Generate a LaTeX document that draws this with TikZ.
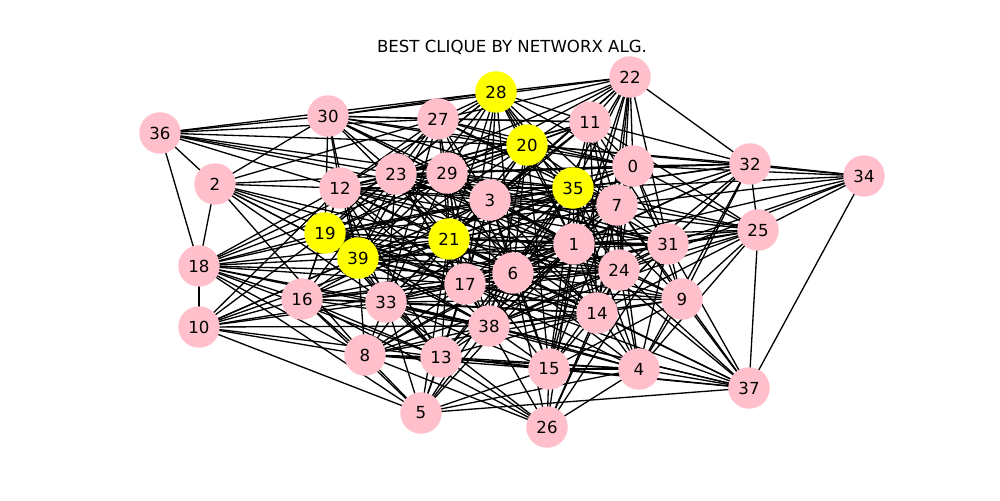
\documentclass[tikz,border=0pt]{standalone}
\usepackage{fontspec}
\setmainfont{DejaVu Sans}
\usetikzlibrary{backgrounds}
\definecolor{nodepink}{RGB}{255,192,203}
\definecolor{cliqueyellow}{RGB}{255,255,0}
\tikzset{
  vtx/.style={circle, fill=nodepink, minimum size=0.83cm, inner sep=0pt, font=\fontsize{9.45}{11}\selectfont},
  clq/.style={vtx, fill=cliqueyellow},
  edge/.style={line width=0.75pt, black}
}
\begin{document}
\begin{tikzpicture}[x=0.02cm, y=-0.02cm]
\useasboundingbox (0,0) rectangle (1000,500);
\node[font=\fontsize{9.45}{11}\selectfont] (title) at (512,47) {BEST CLIQUE BY NETWORX ALG.};
% vertices
\node[clq] (n28) at (496,92) {28};
\node[vtx] (n22) at (630,77) {22};
\node[vtx] (n11) at (590,122) {11};
\node[clq] (n20) at (527,145) {20};
\node[vtx] (n27) at (438,119) {27};
\node[vtx] (n30) at (328,116) {30};
\node[vtx] (n36) at (160,133) {36};
\node[vtx] (n0) at (633,166) {0};
\node[vtx] (n32) at (750,164) {32};
\node[vtx] (n34) at (864,176) {34};
\node[vtx] (n2) at (215,184) {2};
\node[vtx] (n12) at (340,188) {12};
\node[vtx] (n23) at (396,174) {23};
\node[vtx] (n29) at (447,173) {29};
\node[vtx] (n3) at (490,200) {3};
\node[clq] (n35) at (573,188) {35};
\node[vtx] (n7) at (617,205) {7};
\node[vtx] (n25) at (758,230) {25};
\node[clq] (n19) at (325,233) {19};
\node[clq] (n21) at (449,239) {21};
\node[vtx] (n1) at (574,244) {1};
\node[vtx] (n31) at (668,244) {31};
\node[clq] (n39) at (358,258) {39};
\node[vtx] (n18) at (199,266) {18};
\node[vtx] (n6) at (513,273) {6};
\node[vtx] (n24) at (619,270) {24};
\node[vtx] (n17) at (465,284) {17};
\node[vtx] (n16) at (302,299) {16};
\node[vtx] (n33) at (386,302) {33};
\node[vtx] (n9) at (682,299) {9};
\node[vtx] (n14) at (597,313) {14};
\node[vtx] (n10) at (199,327) {10};
\node[vtx] (n38) at (489,326) {38};
\node[vtx] (n8) at (365,355) {8};
\node[vtx] (n13) at (441,357) {13};
\node[vtx] (n15) at (549,369) {15};
\node[vtx] (n4) at (639,369) {4};
\node[vtx] (n37) at (749,388) {37};
\node[vtx] (n5) at (421,413) {5};
\node[vtx] (n26) at (547,427) {26};
% edges
\begin{pgfonlayer}{background}
\foreach \a/\b in {%
28/20,28/35,28/21,28/19,28/39,20/35,20/21,20/19,20/39,35/21,35/19,35/39,21/19,21/39,19/39,%
36/30,36/27,36/28,36/20,36/29,36/23,36/3,36/12,36/2,36/18,%
2/18,2/30,2/12,2/27,2/29,2/21,2/39,2/33,2/17,2/38,2/8,2/6,%
18/10,18/19,18/39,18/12,18/23,18/21,18/16,18/33,18/17,18/6,18/38,18/8,18/13,18/5,18/3,18/29,%
10/19,10/39,10/12,10/21,10/3,10/16,10/33,10/8,10/38,10/13,10/5,10/17,%
30/12,30/19,30/27,30/28,30/20,30/11,30/22,30/0,30/23,30/29,30/3,30/21,30/35,30/1,30/39,%
27/28,27/20,27/22,27/11,27/29,27/23,27/12,27/19,27/39,27/3,27/35,27/21,27/6,27/17,27/33,27/0,27/7,%
28/22,28/11,28/0,28/29,28/23,28/3,28/12,28/7,28/1,28/6,28/24,28/17,%
22/32,22/11,22/0,22/20,22/35,22/7,22/3,22/29,22/1,22/23,22/21,22/6,22/24,22/31,22/14,22/15,%
11/20,11/0,11/35,11/7,11/32,11/3,11/29,11/23,11/21,11/12,11/1,11/24,11/31,11/25,11/14,%
0/32,0/34,0/25,0/35,0/7,0/20,0/29,0/3,0/21,0/1,0/31,0/24,0/9,0/6,%
32/34,32/25,32/20,32/35,32/7,32/29,32/3,32/1,32/24,32/31,32/9,32/14,32/4,32/6,%
34/25,34/37,34/7,34/35,34/1,34/31,34/24,34/20,%
25/37,25/7,25/35,25/1,25/31,25/24,25/9,25/14,25/6,25/3,25/21,25/4,25/38,%
37/9,37/31,37/24,37/14,37/4,37/15,37/38,37/13,37/5,37/1,37/6,37/7,37/33,37/17,%
9/31,9/7,9/24,9/14,9/4,9/15,9/1,9/6,9/35,9/38,9/17,9/21,9/33,%
4/31,4/7,4/24,4/14,4/15,4/13,4/38,4/5,4/26,4/1,4/6,4/33,4/8,4/17,4/35,%
15/26,15/13,15/38,15/5,15/14,15/1,15/35,15/7,15/6,15/3,15/20,15/24,15/33,15/8,15/21,%
26/38,26/13,26/33,26/8,26/24,26/14,26/1,26/6,26/16,26/31,%
5/13,5/38,5/33,5/8,5/16,5/6,5/1,5/17,5/21,%
13/38,13/33,13/8,13/16,13/39,13/19,13/21,13/17,13/6,13/1,13/14,13/35,13/3,13/12,%
8/16,8/33,8/39,8/38,8/14,8/6,8/1,8/21,8/17,8/24,%
16/19,16/39,16/33,16/38,16/17,16/6,16/21,16/1,16/14,16/3,16/12,16/23,16/24,%
33/39,33/19,33/12,33/23,33/21,33/17,33/6,33/38,33/14,33/1,33/24,33/3,33/29,33/35,%
12/19,12/39,12/23,12/29,12/3,12/21,12/17,12/6,12/1,12/35,12/7,12/20,12/24,12/31,12/38,%
23/29,23/3,23/19,23/39,23/21,23/17,23/6,23/1,23/35,23/20,23/7,23/0,23/38,23/31,23/24,23/14,%
29/3,29/19,29/39,29/21,29/17,29/6,29/1,29/35,29/20,29/7,29/24,29/31,29/14,29/38,%
3/19,3/39,3/21,3/17,3/6,3/1,3/35,3/20,3/7,3/24,3/31,3/14,3/38,%
1/35,1/7,1/31,1/24,1/14,1/6,1/17,1/21,1/39,1/19,1/20,1/38,%
6/17,6/21,6/39,6/19,6/35,6/7,6/24,6/31,6/14,6/38,6/20,%
17/21,17/39,17/19,17/35,17/7,17/24,17/14,17/38,17/31,%
7/35,7/20,7/31,7/24,7/14,7/21,7/39,7/19,7/38,%
31/24,31/35,31/14,31/38,31/21,31/39,%
24/35,24/14,24/38,24/21,24/39,24/19,%
14/38,14/35,14/21,14/39,14/19,%
38/21,38/39,38/19,38/35,38/20,%
20/3,35/3,19/33,39/17%
}{%
  \draw[edge] (n\a.center) -- (n\b.center);
}
\end{pgfonlayer}
\end{tikzpicture}
\end{document}
